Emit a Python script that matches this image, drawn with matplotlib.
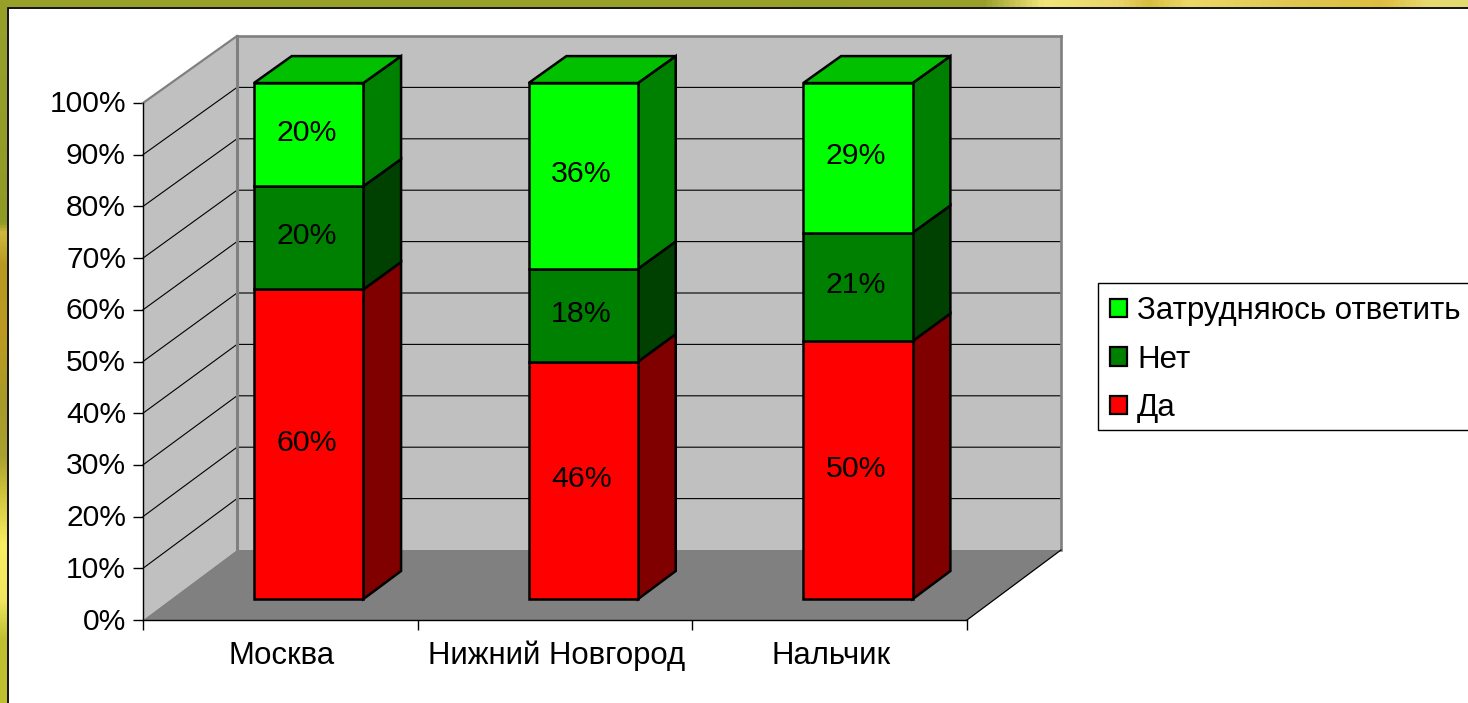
import matplotlib
matplotlib.use('Agg')
import matplotlib.pyplot as plt
import numpy as np
from matplotlib.colors import LinearSegmentedColormap
from matplotlib.patches import Polygon, Patch, Rectangle
from matplotlib.transforms import ScaledTranslation

cities = ['Москва', 'Нижний Новгород', 'Нальчик']
yes_vals = [60, 46, 50]
no_vals = [20, 18, 21]
unsure_vals = [20, 36, 29]
series_names = ['Да', 'Нет', 'Затрудняюсь ответить']
y_ticks = [0, 10, 20, 30, 40, 50, 60, 70, 80, 90, 100]

# front, side colours of each series
front_cols = ['#FF0000', '#008000', '#00FF00']
side_cols = ['#800000', '#004000', '#008000']
top_col = '#00C000'

W, H = 1468, 703
plt.rcParams['font.family'] = ['Liberation Sans', 'DejaVu Sans']

# oblique projection, depth 0 = front plane, depth 1 = back wall
DX = 94 / (824 / 3)
DY = 70 / 5.17
SHRINK = 0.0058
D0, D1 = 0.298, 0.70
BAR_W = 0.398
BAR_SHIFT = 0.001


def proj(x, y, d):
    return (x + d * DX, y * (1 - SHRINK * d) + d * DY)


fig = plt.figure(figsize=(W / 100, H / 100), dpi=100, facecolor='white')

# textured slide frame behind the chart
bg = fig.add_axes([0, 0, 1, 1])
bg.set_xlim(0, W)
bg.set_ylim(H, 0)
bg.axis('off')
top_stops = [(0, '#98A02A'), (985, '#98A02A'), (1045, '#F4E67C'), (1120, '#E8D56A'), (1150, '#D8BC40'),
             (1190, '#EDD968'), (1300, '#DFC650'), (1385, '#DDBE40'), (1430, '#E8DA70'), (W, '#E2DC70')]
left_stops = [(0, '#98A02A'), (222, '#8F9A25'), (232, '#D0B83C'), (265, '#B89820'), (340, '#BC9A20'),
              (400, '#A89A28'), (455, '#A8A030'), (490, '#CCC038'), (545, '#F8EE60'), (600, '#F2E660'),
              (640, '#BFC030'), (H, '#BFC030')]
top_cmap = LinearSegmentedColormap.from_list('top', [(p / W, c) for p, c in top_stops])
left_cmap = LinearSegmentedColormap.from_list('left', [(p / H, c) for p, c in left_stops])
bg.imshow(np.linspace(0, 1, 512).reshape(1, -1), cmap=top_cmap, extent=(0, W, 7, 0), aspect='auto')
bg.imshow(np.linspace(0, 1, 512).reshape(-1, 1), cmap=left_cmap, extent=(0, 7, H, 0), aspect='auto')
bg.set_xlim(0, W)
bg.set_ylim(H, 0)
bg.add_patch(Rectangle((7.5, 7.5), W, H, facecolor='white', edgecolor='black', lw=1.3))
# legend box
bg.add_patch(Rectangle((1097.5, 282.5), W, 147, facecolor='white', edgecolor='black', lw=1))

ax = fig.add_axes([143 / W, (H - 620) / H, 824 / W, 517 / H])
ax.set_xlim(0, 3)
ax.set_ylim(0, 100)
ax.patch.set_visible(False)
for s in ['top', 'right']:
    ax.spines[s].set_visible(False)
for s in ['left', 'bottom']:
    ax.spines[s].set_linewidth(1)

GRAY = '#808080'
WALL = '#C0C0C0'


def poly(points, face, edge='none', lw=0, z=1):
    ax.add_patch(Polygon(points, closed=True, facecolor=face, edgecolor=edge, lw=lw,
                         clip_on=False, zorder=z, joinstyle='miter'))


# walls and floor
poly([proj(0, 0, 0), proj(0, 100, 0), proj(0, 100, 1), proj(0, 0, 1)], WALL, z=1)
poly([proj(0, 0, 1), proj(0, 100, 1), proj(3, 100, 1), proj(3, 0, 1)], WALL, z=1)
poly([proj(0, 0, 0), proj(0, 0, 1), proj(3, 0, 1), proj(3, 0, 0)], GRAY, z=1.5)

# gridlines run along the left wall and then the back wall
for v in y_ticks[1:-1]:
    pts = np.array([proj(0, v, 0), proj(0, v, 1), proj(3, v, 1)])
    ax.plot(pts[:, 0], pts[:, 1], color='black', lw=0.8, clip_on=False, zorder=2)

# grey outline of the walls
for a, b, lw in [(proj(0, 100, 0), proj(0, 100, 1), 1.6),
                 (proj(0, 100, 1), proj(3, 100, 1), 1.9),
                 (proj(3, 100, 1), proj(3, 0, 1), 1.9),
                 (proj(0, 100, 1), proj(0, 0, 1), 2.2)]:
    ax.plot([a[0], b[0]], [a[1], b[1]], color=GRAY, lw=lw, clip_on=False, zorder=2.5, solid_capstyle='projecting')
a, b = proj(3, 0, 0), proj(3, 0, 1)
ax.plot([a[0], b[0]], [a[1], b[1]], color='black', lw=0.9, clip_on=False, zorder=2.5)

# stacked boxes
stacks = [yes_vals, no_vals, unsure_vals]
for i in range(len(cities)):
    x0 = i + 0.5 - BAR_W / 2 + BAR_SHIFT
    x1 = i + 0.5 + BAR_W / 2 + BAR_SHIFT
    bottom = 0
    for s, vals in enumerate(stacks):
        top = bottom + vals[i]
        poly([proj(x1, bottom, D0), proj(x1, bottom, D1), proj(x1, top, D1), proj(x1, top, D0)],
             side_cols[s], 'black', 1.8, z=3)
        poly([proj(x0, bottom, D0), proj(x1, bottom, D0), proj(x1, top, D0), proj(x0, top, D0)],
             front_cols[s], 'black', 1.8, z=3.5)
        tx, ty = proj(i + 0.5, (bottom + top) / 2, D0)
        ax.text(tx - 0.006, ty + 0.3, '%d%%' % vals[i], ha='center', va='center', fontsize=21.8,
                color='black', zorder=5)
        bottom = top
    poly([proj(x0, bottom, D0), proj(x1, bottom, D0), proj(x1, bottom, D1), proj(x0, bottom, D1)],
         top_col, 'black', 1.8, z=3.2)

ax.set_yticks(y_ticks)
ax.set_yticklabels(['%d%%' % v for v in y_ticks], fontsize=21.6)
ax.set_xticks([0, 1, 2, 3])
ax.set_xticklabels([])
ax.set_xticks([0.5, 1.5, 2.5], minor=True)
ax.set_xticklabels(cities, minor=True, fontsize=22.4)
ax.tick_params(axis='both', which='major', length=7.2, width=1, pad=5)
ax.tick_params(axis='x', which='minor', length=0, pad=15)

for lab in ax.get_yticklabels():
    lab.set_transform(lab.get_transform() + ScaledTranslation(0, 1.5 / 100, fig.dpi_scale_trans))
for lab in ax.get_xticklabels(minor=True):
    lab.set_transform(lab.get_transform() + ScaledTranslation(1.5 / 100, 0, fig.dpi_scale_trans))

handles = [Patch(facecolor=front_cols[s], edgecolor='black', lw=1.6, label=series_names[s]) for s in [2, 1, 0]]
leg = fig.legend(handles=handles, loc='upper left', bbox_to_anchor=(1098 / W, (H - 284) / H),
                 fontsize=22.5, frameon=False, borderaxespad=0, handlelength=0.544, handleheight=0.544,
                 handletextpad=0.32, labelspacing=0.59, borderpad=0.39)

fig.savefig('out.png', dpi=100, facecolor='white')
